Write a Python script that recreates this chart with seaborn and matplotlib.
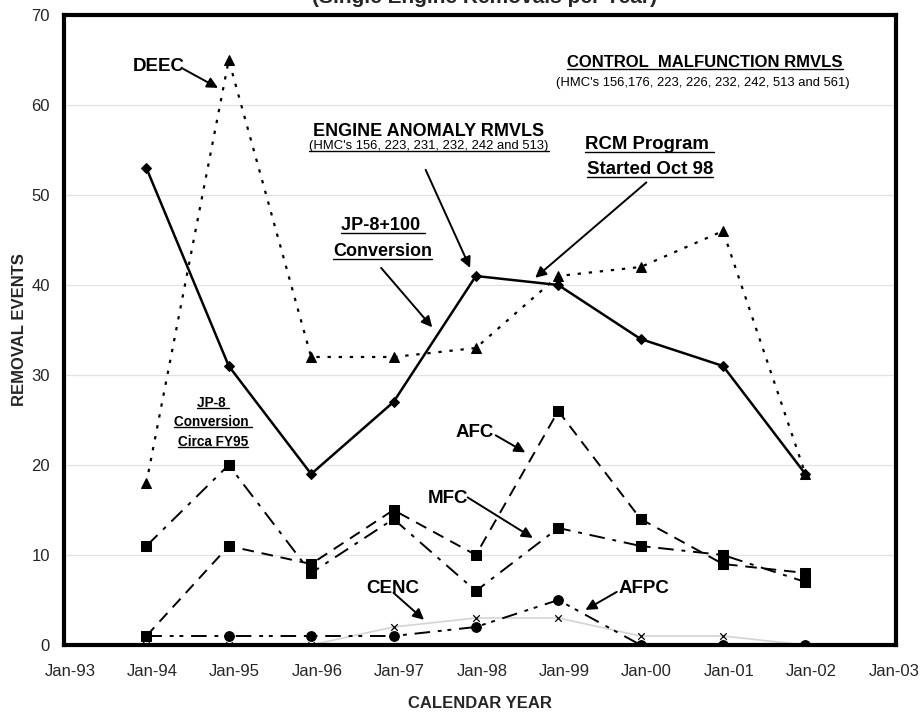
import numpy as np
import pandas as pd
import seaborn as sns
import matplotlib.pyplot as plt
from matplotlib.lines import Line2D
from matplotlib.transforms import ScaledTranslation

years = [1994, 1995, 1996, 1997, 1998, 1999, 2000, 2001, 2002]
engine_anomaly = [53, 31, 19, 27, 41, 40, 34, 31, 19]
deec = [18, 65, 32, 32, 33, 41, 42, 46, 19]
afc = [1, 11, 9, 15, 10, 26, 14, 9, 8]
mfc = [11, 20, 8, 14, 6, 13, 11, 10, 7]
afpc = [1, 1, 1, 1, 2, 5, 0, 0, 0]
cenc = [0, 0, 0, 2, 3, 3, 1, 1, 0]
tick_years = list(range(1993, 2004))
tick_labels = ['Jan-93', 'Jan-94', 'Jan-95', 'Jan-96', 'Jan-97', 'Jan-98',
               'Jan-99', 'Jan-00', 'Jan-01', 'Jan-02', 'Jan-03']

sns.set_style('white')
plt.rcParams['font.family'] = ['Liberation Sans', 'DejaVu Sans']

fig = plt.figure(figsize=(9.22, 7.16), dpi=100)
ax = fig.add_axes([64/922, 71/716, 832/922, 630/716])

# light gray CENC line first so it sits underneath
sns.lineplot(x=years, y=cenc, ax=ax, color='#d4d4d4', lw=1.2, estimator=None)
sns.scatterplot(x=years, y=cenc, ax=ax, marker='x', color='black', s=22, linewidth=0.9, zorder=4)

series = [
    (engine_anomaly, 'D', 5, (None,), 1.8),
    (deec, '^', 7, (1.5, 3.5), 1.6),
    (afc, 's', 7.5, (6, 4), 1.4),
    (mfc, 's', 7.5, (8, 4, 2, 4), 1.4),
    (afpc, 'o', 7, (8, 4, 2, 3, 2, 4), 1.4),
]
for vals, mk, ms, dash, lw in series:
    sns.lineplot(x=years, y=vals, ax=ax, color='black', lw=lw, marker=mk,
                 markersize=ms, markeredgecolor='black', estimator=None)
    if dash[0] is not None:
        ax.lines[-1].set_dashes(dash)

ax.set_xlim(1993, 2003.1)
ax.set_ylim(0, 70)
ax.set_xticks(tick_years)
ax.set_xticklabels(tick_labels)
ax.set_yticks(range(0, 71, 10))
ax.tick_params(axis='both', labelsize=12, length=0)
ax.tick_params(axis='x', pad=14)
ax.tick_params(axis='y', pad=10)
shift = ScaledTranslation(6/100, 0, fig.dpi_scale_trans)
for lbl in ax.get_xticklabels():
    lbl.set_transform(lbl.get_transform() + shift)
ax.yaxis.grid(True, color='#e2e2e2', lw=0.9)
ax.set_axisbelow(True)
for sp in ax.spines.values():
    sp.set_linewidth(3)
    sp.set_color('black')
ax.set_xlabel('CALENDAR YEAR', fontsize=12, fontweight='bold', labelpad=12)
ax.set_ylabel('REMOVAL EVENTS', fontsize=12, fontweight='bold', labelpad=3)

fig.text(0.526, 0.9955, '(Single Engine Removals per Year)', ha='center',
         va='baseline', fontsize=15, fontweight='bold')

underlined = []

def label(x, y, s, size, bold=True, ul=False):
    t = ax.text(x, y, s, ha='center', va='center', fontsize=size,
                fontweight='bold' if bold else 'normal', color='black')
    if ul:
        underlined.append(t)
    return t

def arrow(x0, y0, x1, y1):
    ax.annotate('', xy=(x1, y1), xytext=(x0, y0),
                arrowprops=dict(arrowstyle='-|>', color='black', lw=1.4,
                                mutation_scale=16, shrinkA=0, shrinkB=0))

label(1994.15, 64.3, 'DEEC', 13.5)
arrow(1994.45, 64.0, 1994.87, 61.9)

label(2000.78, 64.7, 'CONTROL  MALFUNCTION RMVLS', 12, ul=True)
label(2000.76, 62.4, "(HMC's 156,176, 223, 226, 232, 242, 513 and 561)", 9.4, bold=False)

label(1997.43, 57.0, 'ENGINE ANOMALY RMVLS', 13)
label(1997.43, 55.4, "(HMC's 156, 223, 231, 232, 242 and 513)", 9.4, bold=False, ul=True)
arrow(1997.39, 52.8, 1997.93, 41.9)

label(2000.11, 55.6, 'RCM Program ', 13.4, ul=True)
label(2000.11, 52.8, 'Started Oct 98', 13.4, ul=True)
arrow(2000.07, 51.4, 1998.72, 40.8)

label(1996.87, 46.6, 'JP-8+100 ', 13, ul=True)
label(1996.87, 43.7, 'Conversion', 13, ul=True)
arrow(1996.85, 41.9, 1997.47, 35.3)

label(1994.81, 26.9, 'JP-8 ', 9.8, ul=True)
label(1994.81, 24.8, 'Conversion ', 9.8, ul=True)
label(1994.81, 22.6, 'Circa FY95', 9.8, ul=True)

label(1997.99, 23.6, 'AFC', 13.5)
arrow(1998.24, 23.3, 1998.60, 21.4)

label(1997.66, 16.3, 'MFC', 13.5)
arrow(1997.90, 16.4, 1998.69, 11.9)

label(1996.99, 6.3, 'CENC', 13.5)
arrow(1997.00, 5.8, 1997.37, 2.8)

label(2000.04, 6.3, 'AFPC', 13.5)
arrow(1999.71, 5.9, 1999.33, 3.9)

# underline selected texts
fig.canvas.draw()
renderer = fig.canvas.get_renderer()
W, H = fig.bbox.width, fig.bbox.height
for t in underlined:
    bb = t.get_window_extent(renderer)
    yl = bb.y0 + 1.5
    fig.add_artist(Line2D([bb.x0 / W, bb.x1 / W], [yl / H, yl / H],
                          color='black', lw=1.0))

fig.savefig('out.png', dpi=100)
